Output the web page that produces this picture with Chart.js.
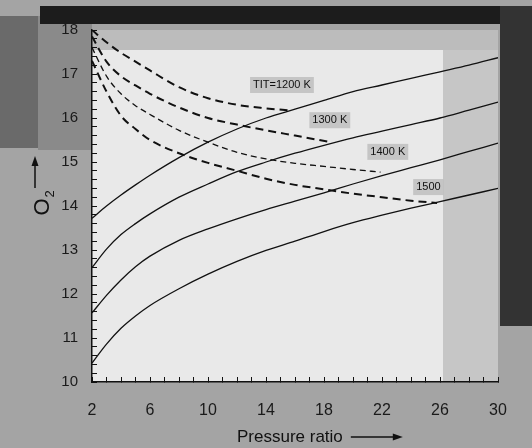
<!DOCTYPE html>
<html>
<head>
<meta charset="utf-8">
<script src="https://cdn.jsdelivr.net/npm/chart.js@4/dist/chart.umd.min.js"></script>
<style>
  body { margin: 0; background: #a4a4a4; }
  canvas { display: block; }
</style>
</head>
<body>
<canvas id="myChart" width="532" height="448"></canvas>
<script>
// pressure ratio for the solid curves
const pressure = [2, 3, 4, 5, 6, 8, 10, 12, 14, 16, 18, 20, 22, 24, 26, 28, 30];

// solid curves (one per TIT)
const o2Solid1200 = [13.72, 14.0, 14.25, 14.48, 14.7, 15.1, 15.45, 15.75, 16.0, 16.2, 16.4, 16.6, 16.75, 16.9, 17.05, 17.2, 17.37];
const o2Solid1300 = [12.6, 13.02, 13.35, 13.6, 13.82, 14.2, 14.5, 14.78, 15.0, 15.2, 15.38, 15.55, 15.7, 15.85, 16.0, 16.18, 16.36];
const o2Solid1400 = [11.57, 11.97, 12.32, 12.62, 12.86, 13.22, 13.48, 13.71, 13.92, 14.11, 14.3, 14.5, 14.69, 14.87, 15.05, 15.24, 15.43];
const o2Solid1500 = [10.43, 10.86, 11.22, 11.5, 11.74, 12.12, 12.45, 12.74, 12.99, 13.2, 13.42, 13.62, 13.79, 13.95, 14.1, 14.25, 14.4];

// dashed curves, each ends where it meets its solid curve
const pDash1200 = [2, 3, 4, 5, 6, 8, 10, 12, 14, 15.7];
const o2Dash1200 = [18.0, 17.72, 17.48, 17.28, 17.08, 16.7, 16.45, 16.3, 16.22, 16.17];
const pDash1300 = [2, 3, 4, 5, 6, 8, 10, 12, 14, 16, 18.3];
const o2Dash1300 = [17.85, 17.28, 16.95, 16.74, 16.55, 16.24, 16.0, 15.85, 15.72, 15.6, 15.46];
const pDash1400 = [2, 3, 4, 5, 6, 8, 10, 12, 14, 16, 18, 20, 21.9];
const o2Dash1400 = [17.6, 16.95, 16.55, 16.28, 16.08, 15.72, 15.45, 15.22, 15.07, 14.97, 14.9, 14.83, 14.77];
const pDash1500 = [2, 3, 4, 5, 6, 8, 10, 12, 14, 16, 18, 20, 22, 24, 25.8];
const o2Dash1500 = [17.3, 16.6, 16.05, 15.75, 15.5, 15.2, 14.98, 14.8, 14.62, 14.48, 14.38, 14.28, 14.2, 14.12, 14.07];

// curve labels
const curveLabels = ["TIT=1200 K", "1300 K", "1400 K", "1500"];
const labelP = [15.1, 18.4, 22.4, 25.2];
const labelO2 = [16.75, 15.95, 15.23, 14.43];

const xTicks = [2, 6, 10, 14, 18, 22, 26, 30];

function pts(xs, ys) {
  return xs.map((x, i) => ({ x: x, y: ys[i] }));
}

function solid(data) {
  return {
    data: pts(pressure, data),
    borderColor: "#111",
    borderWidth: 1.3,
    pointRadius: 0,
    cubicInterpolationMode: "monotone",
    fill: false,
  };
}

function dashed(xs, ys, dash, width) {
  return {
    data: pts(xs, ys),
    borderColor: "#111",
    borderWidth: width,
    borderDash: dash,
    pointRadius: 0,
    cubicInterpolationMode: "monotone",
    fill: false,
  };
}

// scanned-looking backdrop
const backdrop = {
  id: "backdrop",
  beforeDraw(chart) {
    const { ctx, chartArea: a, width, height } = chart;
    ctx.save();
    ctx.fillStyle = "#a4a4a4";
    ctx.fillRect(0, 0, width, height);
    ctx.fillStyle = "#6a6a6a";
    ctx.fillRect(0, 16, 38, 132);
    ctx.fillStyle = "#8a8a8a";
    ctx.fillRect(38, 16, a.left - 38, 134);
    ctx.fillStyle = "#1c1c1c";
    ctx.fillRect(40, 6, width - 40, a.top - 12);
    ctx.fillStyle = "#333";
    ctx.fillRect(a.right + 2, 6, width - a.right - 2, 320);
    ctx.fillStyle = "#e9e9e9";
    ctx.fillRect(a.left, a.top, a.right - a.left, a.bottom - a.top);
    ctx.fillStyle = "#bcbcbc";
    ctx.fillRect(a.left, a.top, a.right - a.left, 20);
    ctx.fillStyle = "#c6c6c6";
    ctx.fillRect(a.right - 55, a.top + 20, 55, a.bottom - a.top - 20);
    ctx.restore();
  },
  afterDraw(chart) {
    const { ctx, chartArea: a, scales } = chart;
    ctx.save();
    // curve labels
    ctx.font = "11px 'Liberation Sans', Arial, sans-serif";
    ctx.textAlign = "center";
    ctx.textBaseline = "middle";
    curveLabels.forEach((t, i) => {
      const x = scales.x.getPixelForValue(labelP[i]);
      const y = scales.y.getPixelForValue(labelO2[i]);
      const w = ctx.measureText(t).width + 6;
      ctx.fillStyle = "rgba(190,190,190,0.85)";
      ctx.fillRect(x - w / 2, y - 8, w, 16);
      ctx.fillStyle = "#111";
      ctx.fillText(t, x, y);
    });

    // x axis title with arrow
    ctx.font = "17px 'Liberation Sans', Arial, sans-serif";
    ctx.textAlign = "left";
    ctx.textBaseline = "middle";
    const title = "Pressure ratio";
    const tx = 237, ty = 437;
    ctx.fillStyle = "#111";
    ctx.fillText(title, tx, ty);
    const ax = tx + ctx.measureText(title).width + 8;
    ctx.strokeStyle = "#111";
    ctx.lineWidth = 1.5;
    ctx.beginPath();
    ctx.moveTo(ax, ty);
    ctx.lineTo(ax + 46, ty);
    ctx.stroke();
    ctx.beginPath();
    ctx.moveTo(ax + 52, ty);
    ctx.lineTo(ax + 42, ty - 3.5);
    ctx.lineTo(ax + 42, ty + 3.5);
    ctx.closePath();
    ctx.fill();

    // y axis title O2 with arrow
    ctx.translate(43, 207);
    ctx.rotate(-Math.PI / 2);
    ctx.font = "22px 'Liberation Sans', Arial, sans-serif";
    ctx.textAlign = "center";
    ctx.fillText("O", 0, 0);
    ctx.font = "13px 'Liberation Sans', Arial, sans-serif";
    ctx.fillText("2", 13, 7);
    ctx.restore();

    ctx.save();
    ctx.strokeStyle = "#111";
    ctx.fillStyle = "#111";
    ctx.lineWidth = 1.5;
    ctx.beginPath();
    ctx.moveTo(35, 188);
    ctx.lineTo(35, 164);
    ctx.stroke();
    ctx.beginPath();
    ctx.moveTo(35, 156);
    ctx.lineTo(31.5, 166);
    ctx.lineTo(38.5, 166);
    ctx.closePath();
    ctx.fill();
    ctx.restore();
  },
};

const config = {
  type: "line",
  data: {
    datasets: [
      solid(o2Solid1200),
      solid(o2Solid1300),
      solid(o2Solid1400),
      solid(o2Solid1500),
      dashed(pDash1200, o2Dash1200, [8, 5], 2),
      dashed(pDash1300, o2Dash1300, [8, 5], 2),
      dashed(pDash1400, o2Dash1400, [6, 4], 1.3),
      dashed(pDash1500, o2Dash1500, [8, 5], 2),
    ],
  },
  options: {
    responsive: false,
    animation: false,
    layout: { padding: { top: 30, right: 34, left: 0, bottom: 0 } },
    plugins: { legend: { display: false }, tooltip: { enabled: false } },
    scales: {
      x: {
        type: "linear",
        min: 2,
        max: 30,
        afterFit: (s) => { s.height = 66; },
        border: { display: true, color: "#111", width: 1.5 },
        grid: { display: true, drawOnChartArea: false, drawTicks: true, tickLength: -5, color: "#111" },
        ticks: {
          stepSize: 1,
          autoSkip: false,
          maxRotation: 0,
          maxTicksLimit: 100,
          padding: 24,
          color: "#1a1a1a",
          font: { family: "'Liberation Sans', Arial, sans-serif", size: 16 },
          callback: (v) => (xTicks.includes(v) ? String(v) : ""),
        },
      },
      y: {
        min: 10,
        max: 18,
        afterFit: (s) => { s.width = 92; },
        border: { display: true, color: "#111", width: 1.5 },
        grid: { display: true, drawOnChartArea: false, drawTicks: true, tickLength: -5, color: "#111" },
        ticks: {
          stepSize: 0.2,
          autoSkip: false,
          maxTicksLimit: 100,
          padding: 19,
          color: "#1a1a1a",
          font: { family: "'Liberation Sans', Arial, sans-serif", size: 15 },
          callback: (v) => (Math.abs(v - Math.round(v)) < 1e-6 ? String(Math.round(v)) : ""),
        },
      },
    },
  },
  plugins: [backdrop],
};

new Chart(document.getElementById("myChart"), config);
</script>
</body>
</html>
